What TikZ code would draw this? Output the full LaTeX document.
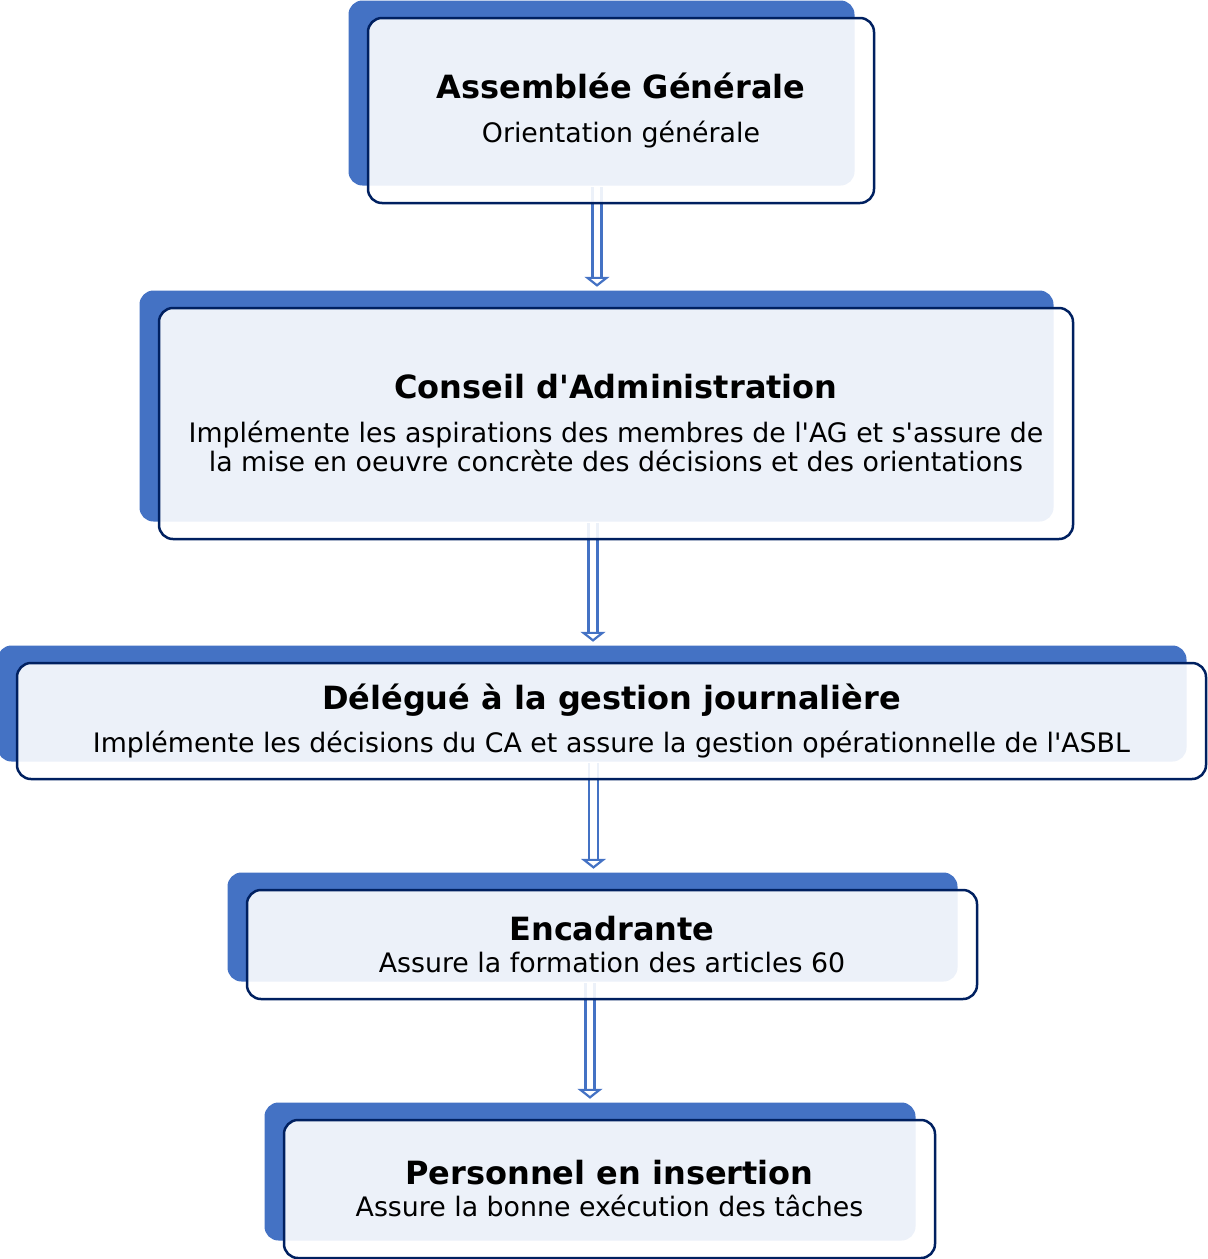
\documentclass[tikz,border=0pt]{standalone}
\usepackage{fontspec}
\setmainfont{DejaVu Sans}
\usetikzlibrary{arrows.meta,shadows,calc,backgrounds}
\definecolor{boxblue}{HTML}{4472C4}
\definecolor{boxline}{HTML}{002060}
\tikzset{
  level/.style={draw=boxline, line width=1.25pt, rounded corners=7pt,
    fill=white, fill opacity=0.9, text opacity=1, align=center, inner sep=0pt,
    drop shadow={shadow xshift=-9.75pt, shadow yshift=8.75pt, fill=boxblue, opacity=1}},
  flow/.style={draw=boxblue, line width=1.1pt, double=white, double distance=3.4pt,
    -{Triangle[fill=white, length=5pt, width=12.5pt]}},
}
\newcommand{\titre}[1]{{\fontsize{16}{19}\selectfont\bfseries #1}}
\newcommand{\sous}{\fontsize{13.4}{14.5}\selectfont}
\newcommand{\apos}{\textquotesingle}
\begin{document}
\begin{tikzpicture}[x=0.5pt,y=-0.5pt]
\useasboundingbox (0,0) rectangle (1207,1259);

% niveaux
\node [level, minimum width=253pt, minimum height=92.5pt] (ag) at (621,110.5)
  {\titre{Assemblée Générale}\\[10pt]\sous Orientation générale};
\node [level, minimum width=457pt, minimum height=115.5pt] (ca) at (616,423.5)
  {\titre{Conseil d\apos Administration}\\[10pt]\sous Implémente les aspirations des membres de l\apos AG et s\apos assure de\\\sous la mise en oeuvre concrète des décisions et des orientations};
\node [level, minimum width=594.5pt, minimum height=58pt] (dgj) at (611.5,721)
  {\titre{Délégué à la gestion journalière}\\[6pt]\sous Implémente les décisions du CA et assure la gestion opérationnelle de l\apos ASBL};
\node [level, minimum width=365pt, minimum height=54.5pt] (enc) at (612,944.5)
  {\titre{Encadrante}\\[4pt]\sous Assure la formation des articles 60};
\node [level, minimum width=325.5pt, minimum height=69pt] (pi) at (609.5,1189)
  {\titre{Personnel en insertion}\\[4pt]\sous Assure la bonne exécution des tâches};

% fleches
\begin{pgfonlayer}{background}
\draw [flow] ($(ag.south)+(-12pt,8.5pt)$) -- ($(ag.south |- ca.north)+(-12pt,10pt)$);
\draw [flow] ($(ca.south)+(-11.5pt,8.5pt)$) -- ($(ca.south |- dgj.north)+(-11.5pt,10pt)$);
\draw [flow] ($(dgj.south)+(-9pt,8.5pt)$) -- ($(dgj.south |- enc.north)+(-9pt,10pt)$);
\draw [flow] ($(enc.south)+(-11pt,8.5pt)$) -- ($(enc.south |- pi.north)+(-11pt,10pt)$);
\end{pgfonlayer}

\end{tikzpicture}
\end{document}
